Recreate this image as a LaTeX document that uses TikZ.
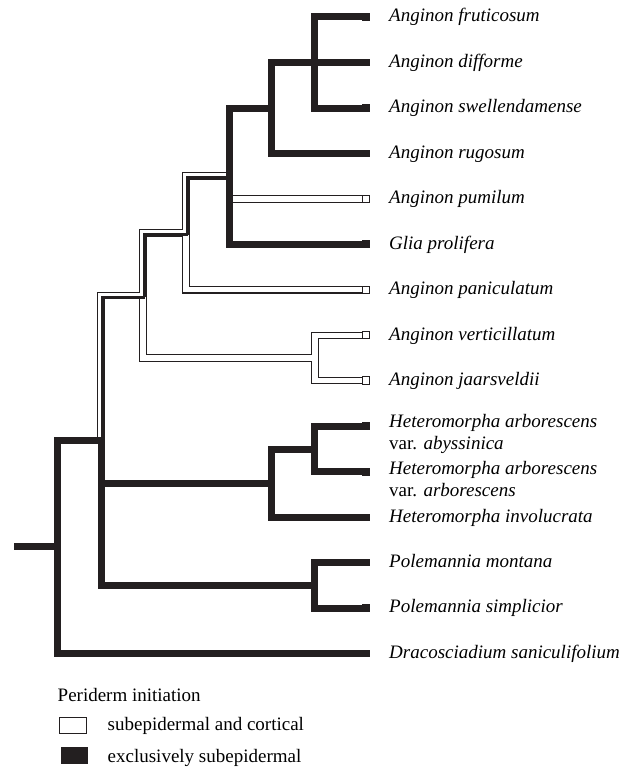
\documentclass[tikz,border=0pt]{standalone}
\usepackage{fontspec}
\setmainfont{Liberation Serif}
\definecolor{ink}{HTML}{231F20}
\begin{document}
\begin{tikzpicture}[x=1pt,y=-1pt,
  blk/.style={line width=7pt, draw=ink},
  wout/.style={line width=7.4pt, draw=ink},
  win/.style={line width=5.2pt, draw=white},
  stripe/.style={line width=3pt, draw=ink},
  leafb/.style={rectangle, fill=ink, draw=none, minimum size=7.5pt, inner sep=0pt},
  leafw/.style={rectangle, fill=white, draw=ink, line width=1pt, minimum size=6.5pt, inner sep=0pt},
  lab/.style={anchor=base west, inner sep=0pt, font=\fontsize{19}{22}\selectfont\itshape},
  leg/.style={anchor=base west, inner sep=0pt, font=\fontsize{19}{22}\selectfont}]
\useasboundingbox (0,0) rectangle (631,768);

% internal nodes
\coordinate (r0) at (14,546.5);
\coordinate (nR) at (57.5,546.5);
\coordinate (nF) at (101,440);
\coordinate (nH) at (271.5,483);
\coordinate (nH1) at (314.5,449);
\coordinate (nP) at (314.5,585);
\coordinate (nE) at (143,295.5);
\coordinate (nD) at (186,233);
\coordinate (nC) at (229,176);
\coordinate (nB) at (271.5,108);
\coordinate (nA) at (314.5,62.5);
\coordinate (nV) at (315,358);
\coordinate (cR) at (232.5,199);

% leaves
\node[leafb] (t1) at (366,17) {};
\node[leafb] (t2) at (366,62.5) {};
\node[leafb] (t3) at (366,108) {};
\node[leafb] (t4) at (366,153.5) {};
\node[leafw] (t5) at (366,199) {};
\node[leafb] (t6) at (366,244.4) {};
\node[leafw] (t7) at (366,289.8) {};
\node[leafw] (t8) at (366,335.2) {};
\node[leafw] (t9) at (366,380.7) {};
\node[leafb] (t10) at (366,426.3) {};
\node[leafb] (t11) at (366,471.7) {};
\node[leafb] (t12) at (366,517.5) {};
\node[leafb] (t13) at (366,562.5) {};
\node[leafb] (t14) at (366,608) {};
\node[leafb] (t15) at (366,653.5) {};

% white (open) branches: outlines
\foreach \a/\b in {nF/nE, nE/nD, nD/nC, nD/t7, nE/nV, nV/t8, nV/t9}
  \draw[wout] (\a) |- (\b);
\draw[wout] (cR) -- (t5);
% white interiors
\foreach \a/\b in {nF/nE, nE/nD, nD/nC, nD/t7, nE/nV, nV/t8, nV/t9}
  \draw[win] (\a) |- (\b);
\draw[win] (cR) -- (t5);
% black stripes on equivocal branches
\foreach \a/\b in {nF/nE, nE/nD, nD/nC}
  \draw[stripe] ([shift={(1.75,1.75)}]\a) |- ([shift={(1.75,1.75)}]\b);

% black branches
\draw[blk] (r0) -- (nR);
\foreach \a/\b in {nR/nF, nR/t15, nF/nH, nF/nP, nH/nH1, nH/t12, nH1/t10, nH1/t11,
                   nP/t13, nP/t14, nC/nB, nC/t6, nB/nA, nB/t4, nA/t1, nA/t2, nA/t3}
  \draw[blk] (\a) |- (\b);

% redraw leaves on top
\foreach \t in {t1,t2,t3,t4,t6,t10,t11,t12,t13,t14,t15}
  \fill[ink] (\t.south west) rectangle (\t.north east);
\foreach \t in {t5,t7,t8,t9}
  \draw[ink, line width=1pt, fill=white] (\t.south west) rectangle (\t.north east);

% labels
\node[lab] (l1) at (389,21.7) {Anginon fruticosum};
\node[lab] (l2) at (389,67.2) {Anginon difforme};
\node[lab] (l3) at (389,112.7) {Anginon swellendamense};
\node[lab] (l4) at (389,158.2) {Anginon rugosum};
\node[lab] (l5) at (389,203.7) {Anginon pumilum};
\node[lab] (l6) at (389,249.1) {Glia prolifera};
\node[lab] (l7) at (389,294.5) {Anginon paniculatum};
\node[lab] (l8) at (389,340) {Anginon verticillatum};
\node[lab] (l9) at (389,385.4) {Anginon jaarsveldii};
\node[lab] (l10a) at (389,427.5) {Heteromorpha arborescens};
\node[lab] (l10b) at (389,449.5) {{\upshape var.} abyssinica};
\node[lab] (l11a) at (389,474.5) {Heteromorpha arborescens};
\node[lab] (l11b) at (389,496.5) {{\upshape var.} arborescens};
\node[lab] (l12) at (389,522) {Heteromorpha involucrata};
\node[lab] (l13) at (389,567.2) {Polemannia montana};
\node[lab] (l14) at (389,612.7) {Polemannia simplicior};
\node[lab] (l15) at (389,658.2) {Dracosciadium saniculifolium};

% legend
\node[leg] (lt) at (57.5,701) {Periderm initiation};
\node[rectangle, draw=ink, line width=1pt, fill=white, minimum width=27pt, minimum height=16pt, inner sep=0pt] (kw) at (72.5,725) {};
\node[leg] (lw) at (107.5,730.5) {subepidermal and cortical};
\node[rectangle, fill=ink, minimum width=27pt, minimum height=17pt, inner sep=0pt] (kb) at (74.5,755.5) {};
\node[leg] (lb) at (107.5,762.5) {exclusively subepidermal};
\end{tikzpicture}
\end{document}
